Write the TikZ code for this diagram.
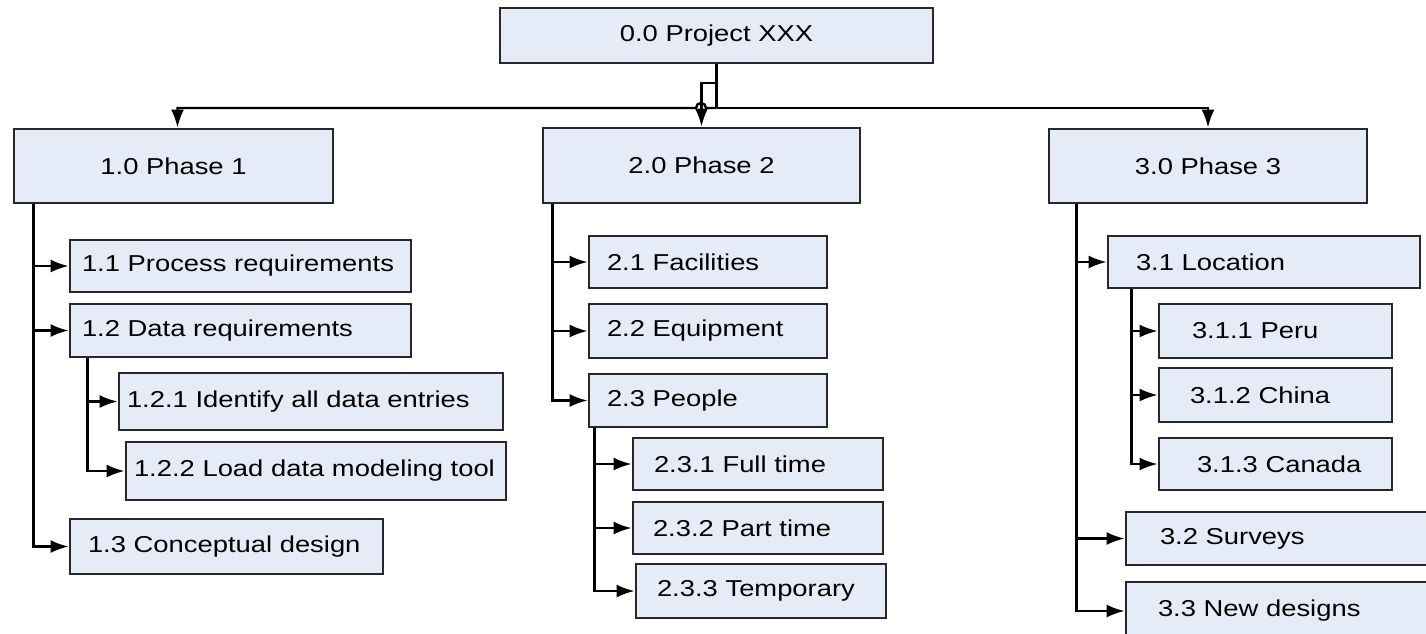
\documentclass[tikz,border=0pt]{standalone}
\usepackage{fontspec}
\setmainfont{Liberation Sans}[FakeStretch=1.19]
\usetikzlibrary{arrows.meta,positioning}
\definecolor{boxfill}{RGB}{230,236,247}
\definecolor{boxline}{RGB}{40,40,40}
\tikzset{wbox/.style={draw=boxline, line width=2.8pt, fill=boxfill, inner ysep=0pt, font=\fontsize{23}{27}\selectfont}}
\tikzset{cbox/.style={wbox, align=center}}
\tikzset{lbox/.style={wbox, align=left, execute at begin node={\leavevmode\hbox\bgroup}, execute at end node={\egroup}}}
\tikzset{conn/.style={draw, line width=2.4pt}}
\tikzset{arr/.style={conn, -{Latex[length=18pt,width=13pt]}}}

\begin{document}
\begin{tikzpicture}[x=1pt, y=-1pt]
	\useasboundingbox (0,0) rectangle (1426,633);
	\clip (0,0) rectangle (1426,633);
	\fill[white] (0,0) rectangle (1426,633);
	
	% top level
	\node[cbox, minimum width=433pt, minimum height=55pt] (root) at (716.5,35.5) {0.0 Project XXX};
	\node[cbox, minimum width=319pt, minimum height=74pt] (P1) at (173.5,166) {1.0 Phase 1};
	\node[cbox, minimum width=317pt, minimum height=75pt] (P2) at (701.5,165.5) {2.0 Phase 2};
	\node[cbox, minimum width=318pt, minimum height=74pt] (P3) at (1208,166) {3.0 Phase 3};
	
	% phase 1
	\node[lbox, text width=317pt, inner xsep=12pt, minimum height=52pt] (A11) at (240.5,266) {1.1 Process requirements};
	\node[lbox, text width=317pt, inner xsep=12pt, minimum height=53pt] (A12) at (240.5,330.5) {1.2 Data requirements};
	\node[lbox, text width=368pt, inner xsep=8pt, minimum height=57pt] (A121) at (311,401.5) {1.2.1 Identify all data entries};
	\node[lbox, text width=364pt, inner xsep=8pt, minimum height=58pt] (A122) at (316,471) {1.2.2 Load data modeling tool};
	\node[lbox, text width=277pt, inner xsep=18pt, minimum height=55pt] (A13) at (226.5,546.5) {1.3 Conceptual design};
	
	% phase 2
	\node[lbox, text width=202pt, inner xsep=18pt, minimum height=52pt] (B21) at (708,262) {2.1 Facilities};
	\node[lbox, text width=202pt, inner xsep=18pt, minimum height=54pt] (B22) at (708,331) {2.2 Equipment};
	\node[lbox, text width=202pt, inner xsep=18pt, minimum height=53pt] (B23) at (708,400.5) {2.3 People};
	\node[lbox, text width=208pt, inner xsep=21pt, minimum height=52pt] (B231) at (758,464) {2.3.1 Full time};
	\node[lbox, text width=210pt, inner xsep=20pt, minimum height=52pt] (B232) at (758,528) {2.3.2 Part time};
	\node[lbox, text width=208pt, inner xsep=21pt, minimum height=54pt] (B233) at (761,591) {2.3.3 Temporary};
	
	% phase 3
	\node[lbox, text width=256pt, inner xsep=28pt, minimum height=52pt] (C31) at (1264,262) {3.1 Location};
	\node[lbox, text width=167pt, inner xsep=33pt, minimum height=54pt] (C311) at (1275.5,331) {3.1.1 Peru};
	\node[lbox, text width=171pt, inner xsep=31pt, minimum height=54pt] (C312) at (1275.5,395) {3.1.2 China};
	\node[lbox, text width=157pt, inner xsep=38pt, minimum height=52pt] (C313) at (1275.5,464) {3.1.3 Canada};
	\node[lbox, text width=246pt, inner xsep=34pt, minimum height=53pt] (C32) at (1283,538.5) {3.2 Surveys};
	\node[lbox, text width=250pt, inner xsep=32pt, minimum height=58pt] (C33) at (1283,611) {3.3 New designs};
	
	% root to phases
	\draw[conn] (root.south) -- (root.south |- 0,108);
	\draw[arr] (root.south |- 0,108) -- (706,108) arc[start angle=0, end angle=180, radius=5pt] -| ([xshift=4pt]P1.north);
	\draw[arr] (root.south |- 0,108) -| (P3.north);
	\draw[arr] (root.south |- 0,83) -| (P2.north);
	
	% phases to items
	\draw[arr] ([xshift=21pt]P1.south west) |- (A11);
	\draw[arr] ([xshift=21pt]P1.south west) |- (A12);
	\draw[arr] ([xshift=21pt]P1.south west) |- (A13);
	\draw[arr] ([xshift=19pt]A12.south west) |- (A121);
	\draw[arr] ([xshift=19pt]A12.south west) |- (A122);
	
	\draw[arr] ([xshift=11pt]P2.south west) |- (B21);
	\draw[arr] ([xshift=11pt]P2.south west) |- (B22);
	\draw[arr] ([xshift=11pt]P2.south west) |- (B23);
	\draw[arr] ([xshift=7pt]B23.south west) |- (B231);
	\draw[arr] ([xshift=7pt]B23.south west) |- (B232);
	\draw[arr] ([xshift=7pt]B23.south west) |- (B233);
	
	\draw[arr] ([xshift=29pt]P3.south west) |- (C31);
	\draw[arr] ([xshift=29pt]P3.south west) |- (C32);
	\draw[arr] ([xshift=29pt]P3.south west) |- (C33);
	\draw[arr] ([xshift=25pt]C31.south west) |- (C311);
	\draw[arr] ([xshift=25pt]C31.south west) |- (C312);
	\draw[arr] ([xshift=25pt]C31.south west) |- (C313);
\end{tikzpicture}
\end{document}
